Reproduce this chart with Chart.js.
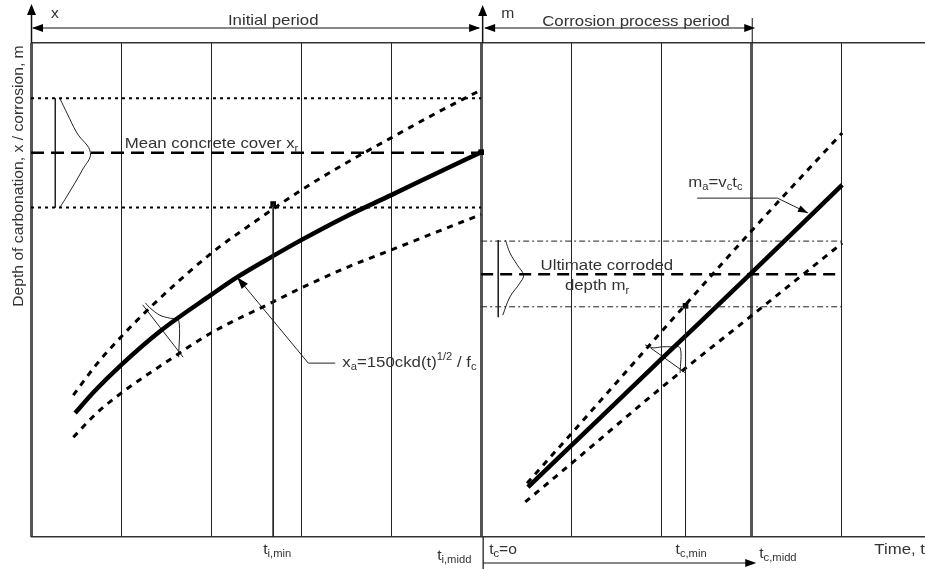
<!DOCTYPE html>
<html><head><meta charset="utf-8">
<script src="https://cdn.jsdelivr.net/npm/chart.js@4/dist/chart.umd.min.js"></script>
<style>html,body{margin:0;padding:0;background:#fff;}canvas{display:block;}</style>
</head><body>
<canvas id="c" width="925" height="569"></canvas>
<script>
// Time in grid units (one vertical grid line per unit), depth in % of plot height
const gridTimes = [0, 1, 2, 3, 4, 5, 6, 7, 8, 9];
const heavyGridTimes = [0, 5, 8];
const timeMax = 9.93;
const depthMax = 100;

// Initial (carbonation) period: x_a = 150 c k d (t)^1/2 / f_c
const initTime      = [0.49, 0.71, 1.00, 1.43, 2.00, 2.29, 2.69, 3.00, 3.50, 4.00, 4.50, 5.00];
const initMean      = [25.1, 29.6, 34.8, 41.6, 49.0, 52.6, 56.9, 60.1, 64.9, 69.2, 73.6, 77.9];
const initUpperTime = [0.47, 0.73, 1.00, 1.32, 2.00, 2.50, 3.00, 3.50, 4.00, 4.50, 5.00];
const initUpper     = [28.7, 35.0, 40.5, 46.4, 57.4, 64.0, 70.2, 75.7, 80.8, 85.8, 90.5];
const initLowerTime = [0.47, 0.73, 1.00, 1.50, 2.00, 2.69, 3.00, 3.50, 4.00, 4.50, 5.00];
const initLower     = [20.2, 25.1, 29.1, 35.4, 41.3, 47.6, 50.4, 54.5, 58.1, 61.7, 65.3];

// Corrosion process period: m_a = v_c t_c
const corrTime      = [5.52, 6.00, 7.00, 8.00, 9.01];
const corrMean      = [10.1, 18.5, 36.0, 53.4, 71.3];
const corrUpperTime = [5.51, 6.01, 7.00, 8.01, 9.01];
const corrUpper     = [10.9, 21.1, 41.5, 62.1, 81.8];
const corrLowerTime = [5.49, 6.01, 7.00, 8.01, 9.01];
const corrLower     = [7.1, 15.0, 30.2, 44.9, 59.5];

// Concrete cover band (initial period) and ultimate corroded depth band
const coverSpan  = [0, 5];
const coverUpper = 88.8, coverMean = 77.8, coverLower = 66.7;
const limitSpan  = [5, 9.01];
const limitUpper = 59.9, limitMean = 53.2, limitLower = 46.6;

// Distribution sketches
const coverBellAxis = 0.27;
const coverBellX = [0.32, 0.40, 0.51, 0.66, 0.57, 0.40, 0.32];
const coverBellY = [88.8, 85.8, 81.8, 77.8, 74.3, 69.0, 66.7];
const limitBellAxis = 5.19;
const limitBellAxisY = [60.1, 44.5];
const limitBellX = [5.27, 5.32, 5.40, 5.47, 5.43, 5.32, 5.24];
const limitBellY = [60.1, 57.5, 55.1, 53.0, 51.4, 48.6, 44.9];
const carbBellX = [1.27, 1.32, 1.43, 1.54, 1.64, 1.64];
const carbBellY = [47.4, 46.4, 44.9, 44.3, 43.9, 36.4];
const carbBellBaseX = [1.24, 1.69];
const carbBellBaseY = [47.0, 36.4];
const corrBellX = [6.82, 6.91, 7.01, 7.10, 7.21, 7.21];
const corrBellY = [38.9, 38.3, 38.5, 38.5, 38.3, 33.2];
const corrBellBaseX = [6.88, 7.27];
const corrBellBaseY = [38.3, 33.2];

// Milestones (t_i,min ; t_i,midd ; t_c,min)
const milestoneTime  = [2.69, 5.00, 7.27];
const milestoneDepth = [67.4, 77.9, 46.8];

// Leader lines of the formula labels
const xaLeaderX = [2.29, 3.08, 3.38];
const xaLeaderY = [52.6, 35.2, 35.2];
const maLeaderX = [7.40, 8.29, 8.63];
const maLeaderY = [68.6, 68.6, 65.6];

const pts = (xs, ys) => xs.map((x, i) => ({x, y: ys[i]}));
const hline = (span, y) => span.map(x => ({x, y}));

const base = {showLine: true, pointRadius: 0, borderColor: '#000', fill: false, tension: 0};
const datasets = [
  // cover band
  {...base, data: hline(coverSpan, coverUpper), borderWidth: 2, borderDash: [3, 4]},
  {...base, data: hline(coverSpan, coverMean), borderWidth: 2.5, borderDash: [13, 7]},
  {...base, data: hline(coverSpan, coverLower), borderWidth: 2, borderDash: [3, 4]},
  {...base, data: [{x: coverBellAxis, y: coverUpper}, {x: coverBellAxis, y: coverLower}], borderWidth: 1, borderColor: '#222'},
  {...base, data: pts(coverBellX, coverBellY), borderWidth: 1, borderColor: '#222', tension: 0.4},
  // limit band
  {...base, data: hline(limitSpan, limitUpper), borderWidth: 1, borderDash: [6, 3, 2, 3], borderColor: '#222'},
  {...base, data: hline(limitSpan, limitMean), borderWidth: 2.5, borderDash: [12, 7]},
  {...base, data: hline(limitSpan, limitLower), borderWidth: 1, borderDash: [6, 3, 2, 3], borderColor: '#222'},
  {...base, data: limitBellAxisY.map(y => ({x: limitBellAxis, y})), borderWidth: 1, borderColor: '#222'},
  {...base, data: pts(limitBellX, limitBellY), borderWidth: 1, borderColor: '#222', tension: 0.4},
  // milestone verticals
  {...base, data: [{x: milestoneTime[0], y: milestoneDepth[0]}, {x: milestoneTime[0], y: 0}], borderWidth: 1, borderColor: '#222'},
  {...base, data: [{x: milestoneTime[2], y: milestoneDepth[2]}, {x: milestoneTime[2], y: 0}], borderWidth: 1, borderColor: '#222'},
  // curves
  {...base, data: pts(initUpperTime, initUpper), borderWidth: 3, borderDash: [6, 6], cubicInterpolationMode: 'monotone'},
  {...base, data: pts(initLowerTime, initLower), borderWidth: 3, borderDash: [6, 6], cubicInterpolationMode: 'monotone'},
  {...base, data: pts(initTime, initMean), borderWidth: 4.5, cubicInterpolationMode: 'monotone'},
  {...base, data: pts(corrUpperTime, corrUpper), borderWidth: 3, borderDash: [6, 6], cubicInterpolationMode: 'monotone'},
  {...base, data: pts(corrLowerTime, corrLower), borderWidth: 3, borderDash: [6, 6], cubicInterpolationMode: 'monotone'},
  {...base, data: pts(corrTime, corrMean), borderWidth: 4.5, cubicInterpolationMode: 'monotone'},
  // small distribution sketches
  {...base, data: pts(carbBellX, carbBellY), borderWidth: 1, borderColor: '#222', tension: 0.3},
  {...base, data: pts(carbBellBaseX, carbBellBaseY), borderWidth: 1, borderColor: '#222'},
  {...base, data: pts(corrBellX, corrBellY), borderWidth: 1, borderColor: '#222', tension: 0.3},
  {...base, data: pts(corrBellBaseX, corrBellBaseY), borderWidth: 1, borderColor: '#222'},
  // leaders
  {...base, data: pts(xaLeaderX, xaLeaderY), borderWidth: 1, borderColor: '#222'},
  {...base, data: pts(maLeaderX, maLeaderY), borderWidth: 1, borderColor: '#222'},
  // milestone markers
  {data: pts(milestoneTime, milestoneDepth), showLine: false, pointStyle: 'rect', pointRadius: 4,
   backgroundColor: '#000', borderColor: '#000', borderWidth: 0}
];

const FONT = '"Liberation Sans", Arial, Helvetica, sans-serif';
const STRETCH = 1.12;
const TXT = '#333';

function runWidth(ctx, parts) {
  let w = 0;
  for (const [t, s] of parts) { ctx.font = s + 'px ' + FONT; w += ctx.measureText(t).width; }
  return w;
}
function drawRun(ctx, x, y, parts, align, rotate) {
  ctx.save();
  ctx.translate(x, y);
  if (rotate) ctx.rotate(rotate);
  ctx.scale(STRETCH, 1);
  ctx.fillStyle = TXT;
  ctx.textBaseline = 'alphabetic';
  ctx.textAlign = 'left';
  let cx = align === 'center' ? -runWidth(ctx, parts) / 2 : 0;
  for (const [t, s, dy] of parts) {
    ctx.font = s + 'px ' + FONT;
    ctx.fillText(t, cx, dy || 0);
    cx += ctx.measureText(t).width;
  }
  ctx.restore();
}
function head(ctx, tx, ty, ang, len, hw) {
  ctx.save();
  ctx.translate(tx, ty);
  ctx.rotate(ang);
  ctx.beginPath();
  ctx.moveTo(0, 0);
  ctx.lineTo(-len, -hw);
  ctx.lineTo(-len, hw);
  ctx.closePath();
  ctx.fillStyle = '#000';
  ctx.fill();
  ctx.restore();
}
function seg(ctx, x1, y1, x2, y2, w, c) {
  ctx.save();
  ctx.beginPath();
  ctx.moveTo(x1, y1); ctx.lineTo(x2, y2);
  ctx.lineWidth = w; ctx.strokeStyle = c || '#111';
  ctx.stroke();
  ctx.restore();
}

const annotations = {
  id: 'annotations',
  afterDatasetsDraw(chart) {
    const ctx = chart.ctx;
    const X = v => chart.scales.x.getPixelForValue(v);
    const Y = v => chart.scales.y.getPixelForValue(v);
    const {top, bottom} = chart.chartArea;
    const x0 = X(0), x5 = X(5), x8 = X(8);

    // axis arrows above the plot
    seg(ctx, x0 + 0.5, top, x0 + 0.5, 12, 1.5);
    head(ctx, x0 + 0.5, 4, -Math.PI / 2, 11, 4.5);
    seg(ctx, x5 + 1.5, top, x5 + 1.5, 12, 1.5);
    head(ctx, x5 + 1.5, 5, -Math.PI / 2, 11, 4.5);
    drawRun(ctx, x0 + 20, 18, [['x', 14]]);
    drawRun(ctx, x5 + 20, 18, [['m', 14]]);

    // period dimension lines
    const dy = top - 15;
    seg(ctx, x0 + 2, dy, x5 - 2, dy, 1);
    head(ctx, x0 + 1, dy, Math.PI, 11, 4);
    head(ctx, x5 - 1, dy, 0, 11, 4);
    seg(ctx, x5 + 4, dy, x8 + 2, dy, 1);
    head(ctx, x5 + 3, dy, Math.PI, 11, 4);
    head(ctx, x8 + 4, dy, 0, 11, 4);
    seg(ctx, x8 + 1, top, x8 + 1, top - 25, 1);
    drawRun(ctx, X(2.69), top - 18, [['Initial period', 15]], 'center');
    drawRun(ctx, X(6.72), top - 17, [['Corrosion process period', 15]], 'center');

    // corrosion-period arrow below the plot
    seg(ctx, x5 + 2, bottom, x5 + 2, chart.height, 1.2);
    seg(ctx, x5 + 2, bottom + 26, x8 + 2, bottom + 26, 1);
    head(ctx, x8 + 5, bottom + 26, 0, 11, 4);

    // leader arrowheads
    const a1 = Math.atan2(Y(xaLeaderY[0]) - Y(xaLeaderY[1]), X(xaLeaderX[0]) - X(xaLeaderX[1]));
    head(ctx, X(xaLeaderX[0]), Y(xaLeaderY[0]), a1, 12, 4);
    const n = maLeaderX.length - 1;
    const a2 = Math.atan2(Y(maLeaderY[n]) - Y(maLeaderY[n - 1]), X(maLeaderX[n]) - X(maLeaderX[n - 1]));
    head(ctx, X(maLeaderX[n]), Y(maLeaderY[n]), a2, 10, 3.5);

    // labels inside the plot
    drawRun(ctx, X(1.04), Y(coverMean) - 5, [['Mean concrete cover x', 15], ['r', 10, 4]]);
    drawRun(ctx, X(5.66), Y(limitMean) - 4, [['Ultimate corroded', 15]]);
    drawRun(ctx, X(5.93), Y(limitMean) + 16, [['depth m', 15], ['r', 10, 4]]);
    drawRun(ctx, X(xaLeaderX[2]) + 7, Y(xaLeaderY[2]) + 4,
      [['x', 15], ['a', 10, 3], ['=150ckd(t)', 15], ['1/2', 10, -7], [' / f', 15], ['c', 10, 3]]);
    drawRun(ctx, X(maLeaderX[0]) - 9, Y(maLeaderY[0]) - 11,
      [['m', 15], ['a', 10, 3], ['=v', 15], ['c', 10, 3], ['t', 15], ['c', 10, 3]]);

    // y axis title
    drawRun(ctx, 23, Y(46.6), [['Depth of carbonation, x / corrosion, m', 14]], 'left', -Math.PI / 2);

    // time labels
    drawRun(ctx, X(milestoneTime[0]) - 10, bottom + 17, [['t', 14], ['i,min', 10, 3]]);
    drawRun(ctx, x5 - 44, bottom + 23, [['t', 14], ['i,midd', 10, 3]]);
    drawRun(ctx, x5 + 8, bottom + 17, [['t', 14], ['c', 10, 3], ['=o', 14]]);
    drawRun(ctx, X(milestoneTime[2]) - 10, bottom + 17, [['t', 14], ['c,min', 10, 3]]);
    drawRun(ctx, x8 + 8, bottom + 21, [['t', 14], ['c,midd', 10, 3]]);
    drawRun(ctx, X(9) + 33, bottom + 17, [['Time, t', 15]]);
  }
};

new Chart(document.getElementById('c'), {
  type: 'scatter',
  data: {datasets},
  options: {
    responsive: false,
    animation: false,
    devicePixelRatio: 1,
    layout: {autoPadding: false, padding: {left: 31, top: 43, right: 0, bottom: 32}},
    plugins: {legend: {display: false}, tooltip: {enabled: false}},
    scales: {
      x: {
        type: 'linear', min: 0, max: timeMax,
        ticks: {display: false, stepSize: 1},
        border: {display: false},
        grid: {
          drawTicks: false,
          color: c => gridTimes.includes(c.tick.value) ? (heavyGridTimes.includes(c.tick.value) ? '#555' : '#222') : 'rgba(0,0,0,0)',
          lineWidth: c => heavyGridTimes.includes(c.tick.value) ? 3 : 1
        }
      },
      y: {
        type: 'linear', min: 0, max: depthMax,
        ticks: {display: false, stepSize: depthMax},
        border: {display: false},
        grid: {drawTicks: false, color: '#333', lineWidth: 1.5}
      }
    }
  },
  plugins: [annotations]
});
</script>
</body></html>
